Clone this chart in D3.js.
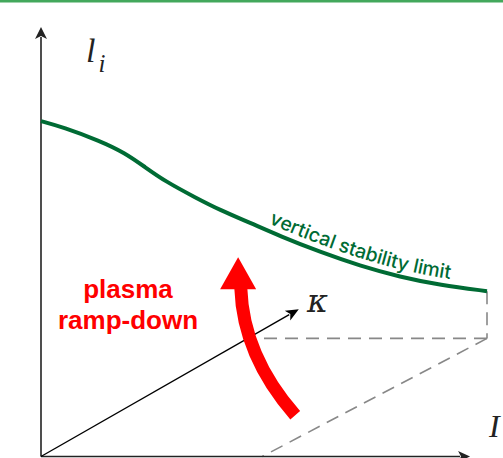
<!DOCTYPE html>
<html>
<head>
<meta charset="utf-8">
<script src="https://cdn.jsdelivr.net/npm/d3@7"></script>
<style>
  html, body { margin: 0; padding: 0; background: #fff; }
  svg { display: block; }
</style>
</head>
<body>
<svg id="chart" width="503" height="458"></svg>
<script>
// ---- data (abstract units: I along x, l_i along y, both 0..1) ----
const curveI  = [0, 0.049, 0.132, 0.188, 0.233, 0.278, 0.348, 0.401, 0.469, 0.536, 0.626, 0.715, 0.805, 0.895, 1.0];
const curveLi = [0.781, 0.767, 0.735, 0.707, 0.674, 0.641, 0.602, 0.574, 0.544, 0.513, 0.476, 0.444, 0.418, 0.399, 0.385];
const curveLabel = "vertical stability limit";
const rampLabel = ["plasma", "ramp-down"];
const axisLabels = { y: "l", ySub: "i", x: "I", k: "κ" };
const kappaEnd = [0.578, 0.343];            // tip of kappa axis
const boxCornerLow = [1.0, 0.275];          // lower corner of dashed box
const boxDiagEnd = [0.496, 0.0];            // dashed diagonal end on I axis
const rampPath = [[0.57, 0.096], [0.453, 0.235], [0.448, 0.392]]; // start, control, end
const rampTip = [0.442, 0.464];

// ---- scales ----
const x = d3.scaleLinear().domain([0, 1]).range([41, 487]);
const y = d3.scaleLinear().domain([0, 1]).range([456.5, 27]);

const svg = d3.select("#chart");
svg.append("rect").attr("x", 0).attr("y", 0).attr("width", 503).attr("height", 2.5).attr("fill", "#43a85c");

const axisColor = "#222";
function arrow(x1, y1, x2, y2, len, half, color, w) {
  const L = Math.hypot(x2 - x1, y2 - y1);
  svg.append("line").attr("x1", x1).attr("y1", y1)
    .attr("x2", x2 - (x2 - x1) / L * (len - 2))
    .attr("y2", y2 - (y2 - y1) / L * (len - 2))
    .attr("stroke", color).attr("stroke-width", w);
  const a = Math.atan2(y2 - y1, x2 - x1);
  const bx = x2 - len * Math.cos(a), by = y2 - len * Math.sin(a);
  const px = -Math.sin(a) * half, py = Math.cos(a) * half;
  svg.append("path")
    .attr("d", `M${x2},${y2}L${bx + px},${by + py}L${bx + len * 0.25 * Math.cos(a)},${by + len * 0.25 * Math.sin(a)}L${bx - px},${by - py}Z`)
    .attr("fill", color);
}

// dashed box
const dash = svg.append("g").attr("stroke", "#888").attr("stroke-width", 1.6)
  .attr("stroke-dasharray", "13,8").attr("fill", "none");
const kx = t => x(0) + (x(kappaEnd[0]) - x(0)) * t;
const tMeet = (y(boxCornerLow[1]) - y(0)) / (y(kappaEnd[1]) - y(0));
dash.append("path").attr("d", d3.line()([[x(1), y(curveLi[curveLi.length - 1])], [x(boxCornerLow[0]), y(boxCornerLow[1])]]));
dash.append("path").attr("d", d3.line()([[x(boxCornerLow[0]), y(boxCornerLow[1])], [kx(tMeet), y(boxCornerLow[1])]]));
dash.append("path").attr("d", d3.line()([[x(boxCornerLow[0]), y(boxCornerLow[1])], [x(boxDiagEnd[0]), y(boxDiagEnd[1])]]));

// axes
arrow(x(0), y(0), x(0), y(1), 12, 6, axisColor, 1.6);
arrow(x(0), y(0), x(0.962), y(0), 12, 5.5, axisColor, 1.6);
arrow(x(0), y(0), x(kappaEnd[0]), y(kappaEnd[1]), 13, 5.5, "#000", 1.4);

// green curve
const pts = curveI.map((d, i) => [x(d), y(curveLi[i])]);
const cPath = svg.append("path").attr("id", "vsl")
  .attr("d", d3.line().curve(d3.curveBasis)(pts))
  .attr("fill", "none").attr("stroke", "#006b34").attr("stroke-width", 4);

// find offset at x≈266
const node = cPath.node();
const total = node.getTotalLength();
let lo = 0, hi = total;
for (let k = 0; k < 40; k++) { const m = (lo + hi) / 2; if (node.getPointAtLength(m).x < 266) lo = m; else hi = m; }
svg.append("text").attr("font-family", "Inter, 'Open Sans', sans-serif").attr("font-size", 19.5)
  .attr("font-weight", 500).attr("fill", "#006b34").attr("dy", -7)
  .append("textPath").attr("href", "#vsl").attr("startOffset", lo).text(curveLabel);

// red ramp-down arrow
const rp = rampPath.map(p => [x(p[0]), y(p[1])]);
svg.append("path").attr("d", `M${rp[0][0]},${rp[0][1]}Q${rp[1][0]},${rp[1][1]} ${rp[2][0]},${rp[2][1]}`)
  .attr("fill", "none").attr("stroke", "#ff0000").attr("stroke-width", 13);
const tx = x(rampTip[0]), ty = y(rampTip[1]);
svg.append("path").attr("d", `M${tx},${ty}L${tx - 18},${ty + 32}L${tx + 18},${ty + 32}Z`).attr("fill", "#ff0000");

// labels
const rl = svg.append("text").attr("font-family", "'Liberation Sans', Arial, sans-serif").attr("font-weight", "bold")
  .attr("font-size", 26).attr("fill", "#ff0000").attr("text-anchor", "middle");
rampLabel.forEach((t, i) => rl.append("tspan").attr("x", 128).attr("y", 298 + i * 31).text(t));

const serif = "'Liberation Serif', 'DejaVu Serif', serif";
const yl = svg.append("text").attr("x", 86).attr("y", 62).attr("font-family", serif).attr("font-style", "italic")
  .attr("font-size", 34).attr("fill", "#222").text(axisLabels.y);
yl.append("tspan").attr("font-size", 25).attr("dx", 3).attr("dy", 10).text(axisLabels.ySub);
svg.append("text").attr("x", 307).attr("y", 312).attr("font-family", "'DejaVu Serif', serif").attr("font-style", "italic")
  .attr("font-size", 32).attr("fill", "#222").text(axisLabels.k);
svg.append("text").attr("x", 489).attr("y", 437).attr("font-family", serif).attr("font-style", "italic")
  .attr("font-size", 32).attr("fill", "#222").text(axisLabels.x);
</script>
</body>
</html>
